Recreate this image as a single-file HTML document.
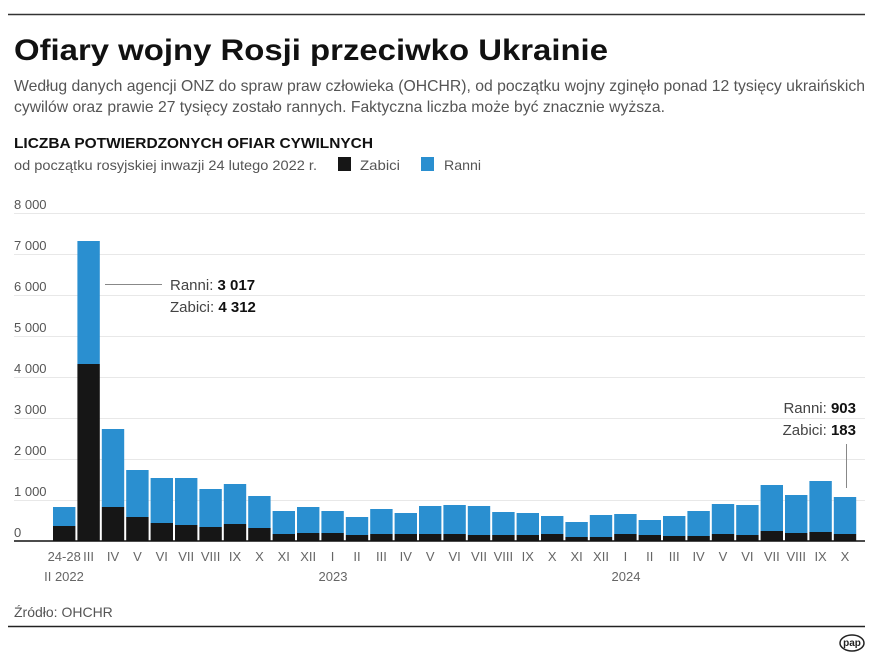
<!DOCTYPE html>
<html><head><meta charset="utf-8"><style>
body{margin:0;background:#fff;}
svg{display:block;font-family:"Liberation Sans",sans-serif;}
</style></head><body>
<svg width="880" height="660" viewBox="0 0 880 660" xmlns="http://www.w3.org/2000/svg">
<rect width="880" height="660" fill="#fff"/>
<line x1="8" y1="14.5" x2="865" y2="14.5" stroke="#333" stroke-width="1.5"/>
<text x="14" y="60" font-size="30" font-weight="bold" fill="#111" textLength="594" lengthAdjust="spacingAndGlyphs">Ofiary wojny Rosji przeciwko Ukrainie</text>
<text x="14" y="91" font-size="16" fill="#555" textLength="851" lengthAdjust="spacingAndGlyphs">Według danych agencji ONZ do spraw praw człowieka (OHCHR), od początku wojny zginęło ponad 12 tysięcy ukraińskich</text>
<text x="14" y="112" font-size="16" fill="#555" textLength="651" lengthAdjust="spacingAndGlyphs">cywilów oraz prawie 27 tysięcy zostało rannych. Faktyczna liczba może być znacznie wyższa.</text>
<text x="14" y="148" font-size="15" font-weight="bold" fill="#111" textLength="359" lengthAdjust="spacingAndGlyphs">LICZBA POTWIERDZONYCH OFIAR CYWILNYCH</text>
<text x="14" y="170" font-size="14" fill="#555" textLength="303" lengthAdjust="spacingAndGlyphs">od początku rosyjskiej inwazji 24 lutego 2022 r.</text>
<rect x="338" y="157" width="13" height="14" fill="#161616"/>
<text x="360" y="170" font-size="14" fill="#555" textLength="40" lengthAdjust="spacingAndGlyphs">Zabici</text>
<rect x="421" y="157" width="13" height="14" fill="#2a8fd0"/>
<text x="444" y="170" font-size="14" fill="#555" textLength="37" lengthAdjust="spacingAndGlyphs">Ranni</text>
<g stroke="#e8e8e8" stroke-width="1">
<line x1="14" y1="213.5" x2="865" y2="213.5"/><line x1="14" y1="254.5" x2="865" y2="254.5"/><line x1="14" y1="295.5" x2="865" y2="295.5"/><line x1="14" y1="336.5" x2="865" y2="336.5"/><line x1="14" y1="377.5" x2="865" y2="377.5"/><line x1="14" y1="418.5" x2="865" y2="418.5"/><line x1="14" y1="459.5" x2="865" y2="459.5"/><line x1="14" y1="500.5" x2="865" y2="500.5"/>
</g>
<g font-size="13" fill="#555">
<text x="14" y="209">8 000</text><text x="14" y="250">7 000</text><text x="14" y="291">6 000</text><text x="14" y="332">5 000</text><text x="14" y="373">4 000</text><text x="14" y="414">3 000</text><text x="14" y="455">2 000</text><text x="14" y="496">1 000</text><text x="14" y="537">0</text>
</g>
<g id="bars"></g>
<line x1="14" y1="541" x2="865" y2="541" stroke="#111" stroke-width="1.5"/>
<line x1="105" y1="284.5" x2="162" y2="284.5" stroke="#888" stroke-width="1"/>
<text x="170" y="290" font-size="15" fill="#444">Ranni: <tspan font-weight="bold" fill="#111">3 017</tspan></text>
<text x="170" y="312" font-size="15" fill="#444">Zabici: <tspan font-weight="bold" fill="#111">4 312</tspan></text>
<text x="856" y="413" font-size="15" fill="#444" text-anchor="end">Ranni: <tspan font-weight="bold" fill="#111">903</tspan></text>
<text x="856" y="435" font-size="15" fill="#444" text-anchor="end">Zabici: <tspan font-weight="bold" fill="#111">183</tspan></text>
<line x1="846.5" y1="444" x2="846.5" y2="488" stroke="#888" stroke-width="1"/>
<g id="xl" font-size="13" fill="#666" text-anchor="middle"></g>
<text x="64" y="581" font-size="13" fill="#666" text-anchor="middle">II 2022</text>
<text x="333" y="581" font-size="13" fill="#666" text-anchor="middle">2023</text>
<text x="626" y="581" font-size="13" fill="#666" text-anchor="middle">2024</text>
<text x="14" y="617" font-size="14" fill="#555">Źródło: OHCHR</text>
<line x1="8" y1="626.5" x2="865" y2="626.5" stroke="#222" stroke-width="1.5"/>
<ellipse cx="852" cy="643" rx="12" ry="8" fill="#fff" stroke="#222" stroke-width="1.5"/>
<text x="852" y="646" font-size="10" font-weight="bold" fill="#222" text-anchor="middle">pap</text>
</svg>
<script>
var t=[507,241,429,470,478,478,489,484,496,511,507,511,517,509,513,506,505,506,512,513,516,522,515,514,520,516,511,504,505,485,495,481,497];
var b=[526,364,507,517,523,525,527,524,528,534,533,533,535,534,534,534,534,535,535,535,534,537,537,534,535,536,536,534,535,531,533,532,534];
var L=["24-28","III","IV","V","VI","VII","VIII","IX","X","XI","XII","I","II","III","IV","V","VI","VII","VIII","IX","X","XI","XII","I","II","III","IV","V","VI","VII","VIII","IX","X"];
var ns="http://www.w3.org/2000/svg",g=document.getElementById("bars"),xl=document.getElementById("xl");
for(var i=0;i<33;i++){var x=53+i*24.4;
var r=document.createElementNS(ns,"rect");r.setAttribute("x",x);r.setAttribute("y",t[i]);r.setAttribute("width",22.4);r.setAttribute("height",b[i]-t[i]);r.setAttribute("fill","#2a8fd0");g.appendChild(r);
r=document.createElementNS(ns,"rect");r.setAttribute("x",x);r.setAttribute("y",b[i]);r.setAttribute("width",22.4);r.setAttribute("height",541-b[i]);r.setAttribute("fill","#161616");g.appendChild(r);
var tx=document.createElementNS(ns,"text");tx.setAttribute("x",x+11.2);tx.setAttribute("y",561);tx.textContent=L[i];xl.appendChild(tx);}
</script>
</body></html>
